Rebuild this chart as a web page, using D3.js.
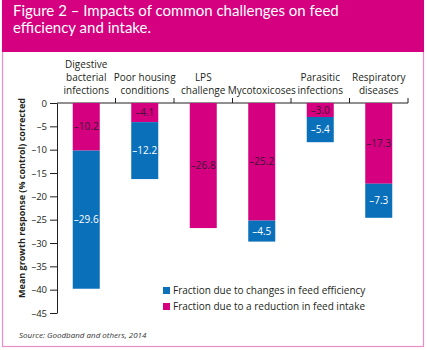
<!DOCTYPE html>
<html>
<head>
<meta charset="utf-8">
<script src="https://d3js.org/d3.v7.min.js"></script>
<style>
  body { margin: 0; background: #fff; }
  text { font-family: "Open Sans", sans-serif; }
</style>
</head>
<body>
<div id="chart"></div>
<script>
// chart data
var categories = ["Digestive bacterial infections", "Poor housing conditions", "LPS challenge",
                  "Mycotoxicoses", "Parasitic infections", "Respiratory diseases"];
var categoryLines = [["Digestive", "bacterial", "infections"], ["Poor housing", "conditions"],
                     ["LPS", "challenge"], ["Mycotoxicoses"], ["Parasitic", "infections"],
                     ["Respiratory", "diseases"]];
var intake = [-10.2, -4.1, -26.8, -25.2, -3.0, -17.3];
var efficiency = [-29.6, -12.2, 0, -4.5, -5.4, -7.3];
var yTicks = [0, -5, -10, -15, -20, -25, -30, -35, -40, -45];
var seriesNames = ["Fraction due to changes in feed efficiency", "Fraction due to a reduction in feed intake"];

var W = 427, H = 350;
var pink = "#d5007f", blue = "#0a70b9", ink = "#231f20";

var svg = d3.select("#chart").append("svg")
  .attr("width", W)
  .attr("height", H);

// frame + header
svg.append("rect")
  .attr("x", 2.5).attr("y", 0.5)
  .attr("width", 421).attr("height", 346)
  .attr("fill", "none")
  .attr("stroke", "#ea8fc6")
  .attr("stroke-width", 1.2);

svg.append("rect")
  .attr("x", 2).attr("y", 0)
  .attr("width", 422).attr("height", 52)
  .attr("fill", pink);

svg.append("text")
  .attr("x", 13).attr("y", 16)
  .style("font-family", "Lato, sans-serif")
  .style("font-size", "15px")
  .attr("fill", "#fff")
  .selectAll("tspan")
  .data(["Figure 2 \u2013 Impacts of common challenges on feed", "efficiency and intake."])
  .enter().append("tspan")
  .attr("x", 13)
  .attr("dy", (d, i) => i === 0 ? 0 : 17)
  .text(d => d);

// scales
var x = d3.scaleBand()
  .domain(categories)
  .range([57, 408]);

var y = d3.scaleLinear()
  .domain([0, -45])
  .range([103, 313]);

var barW = 27;

// y axis
var yAxis = svg.append("g")
  .attr("transform", "translate(57,0)")
  .call(d3.axisLeft(y)
    .tickValues(yTicks)
    .tickSize(7)
    .tickSizeOuter(0)
    .tickPadding(3)
    .tickFormat(d => d === 0 ? "0" : "\u2013" + Math.abs(d)));
yAxis.select(".domain").attr("stroke", ink);
yAxis.selectAll(".tick line").attr("stroke", ink);
yAxis.selectAll("text")
  .style("font-size", "9.5px")
  .attr("fill", ink);

svg.append("text")
  .attr("transform", "translate(25,198) rotate(-90)")
  .style("text-anchor", "middle")
  .style("font-size", "9px")
  .style("font-weight", "bold")
  .attr("fill", ink)
  .text("Mean growth response (% control) corrected");

// x axis along zero, ticks pointing up between categories
svg.append("line")
  .attr("x1", 57).attr("x2", 408)
  .attr("y1", y(0)).attr("y2", y(0))
  .attr("stroke", ink);

svg.selectAll(".xtick")
  .data(categories)
  .enter().append("line")
  .attr("class", "xtick")
  .attr("x1", d => x(d) + x.bandwidth())
  .attr("x2", d => x(d) + x.bandwidth())
  .attr("y1", y(0)).attr("y2", y(0) - 5)
  .attr("stroke", ink);

// category labels, bottom aligned
categories.forEach(function(c, i) {
  var lines = categoryLines[i];
  var t = svg.append("text")
    .attr("text-anchor", "middle")
    .style("font-size", "10px")
    .attr("fill", ink);
  lines.forEach(function(l, j) {
    t.append("tspan")
      .attr("x", x(c) + x.bandwidth() / 2)
      .attr("y", 94 - (lines.length - 1 - j) * 13)
      .text(l);
  });
});

// bars: intake on top from zero, efficiency stacked below
var rows = categories.map((c, i) => ({cat: c, intake: intake[i], eff: efficiency[i]}));

var g = svg.append("g");

g.selectAll(".intake")
  .data(rows)
  .enter().append("rect")
  .attr("class", "intake")
  .attr("x", d => x(d.cat) + x.bandwidth() / 2 - barW / 2)
  .attr("y", y(0))
  .attr("width", barW)
  .attr("height", d => y(d.intake) - y(0))
  .attr("fill", pink);

g.selectAll(".eff")
  .data(rows.filter(d => d.eff < 0))
  .enter().append("rect")
  .attr("class", "eff")
  .attr("x", d => x(d.cat) + x.bandwidth() / 2 - barW / 2)
  .attr("y", d => y(d.intake))
  .attr("width", barW)
  .attr("height", d => y(d.intake + d.eff) - y(d.intake))
  .attr("fill", blue);

g.selectAll(".lab-intake")
  .data(rows)
  .enter().append("text")
  .attr("x", d => x(d.cat) + x.bandwidth() / 2)
  .attr("y", d => (y(0) + y(d.intake)) / 2)
  .attr("dy", "0.35em")
  .attr("text-anchor", "middle")
  .style("font-size", "10px")
  .attr("fill", "#3a1733")
  .text(d => "\u2013" + Math.abs(d.intake).toFixed(1));

g.selectAll(".lab-eff")
  .data(rows.filter(d => d.eff < 0))
  .enter().append("text")
  .attr("x", d => x(d.cat) + x.bandwidth() / 2)
  .attr("y", d => (y(d.intake) + y(d.intake + d.eff)) / 2)
  .attr("dy", "0.35em")
  .attr("text-anchor", "middle")
  .style("font-size", "10px")
  .attr("fill", "#fff")
  .text(d => "\u2013" + Math.abs(d.eff).toFixed(1));

// legend
var legend = svg.selectAll(".legend")
  .data(seriesNames)
  .enter().append("g")
  .attr("transform", (d, i) => "translate(163," + (287 + i * 16) + ")");

legend.append("rect")
  .attr("width", 7).attr("height", 7)
  .attr("fill", (d, i) => i === 0 ? blue : pink);

legend.append("text")
  .attr("x", 10).attr("y", 3.5)
  .attr("dy", "0.35em")
  .style("font-size", "10px")
  .attr("fill", ink)
  .text(d => d);

// source
svg.append("text")
  .attr("x", 19).attr("y", 338)
  .style("font-size", "8px")
  .style("font-style", "italic")
  .attr("fill", "#333")
  .text("Source: Goodband and others, 2014");
</script>
</body>
</html>
